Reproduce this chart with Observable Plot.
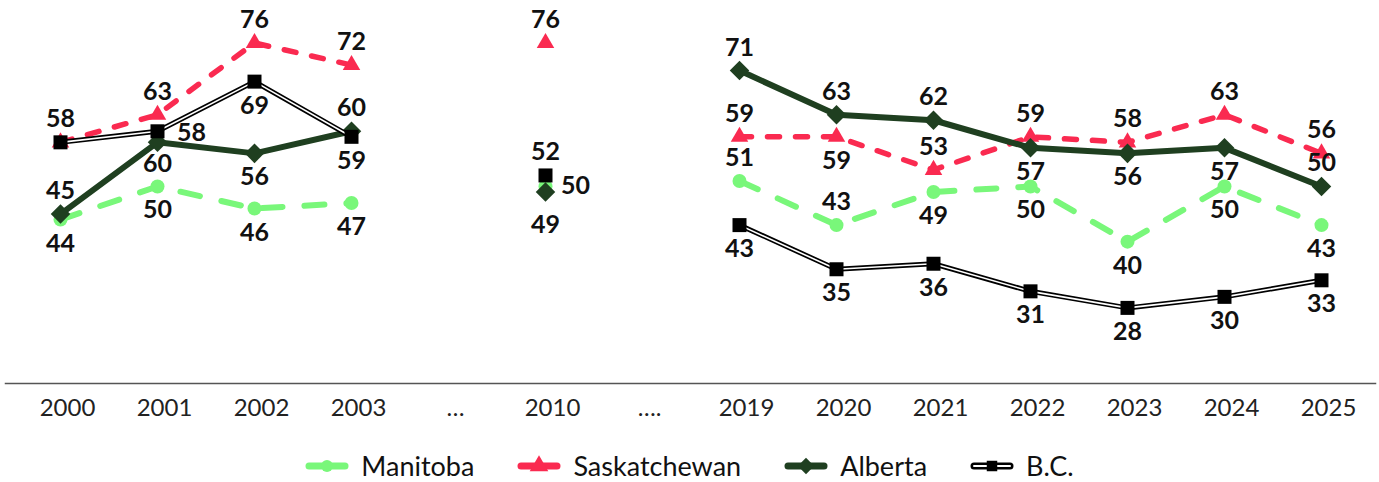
<!DOCTYPE html>
<html>
<head>
<meta charset="utf-8">
<script src="https://cdn.jsdelivr.net/npm/d3@7"></script>
<script src="https://cdn.jsdelivr.net/npm/@observablehq/plot@0.6"></script>
<style>
  html, body { margin: 0; padding: 0; background: #fff; }
  #chart svg { display: block; }
  #legend { display: flex; justify-content: center; align-items: center; gap: 43px;
    margin-top: 0px; font-family: Lato, sans-serif; font-weight: 400; font-size: 27px; color: #111; height: 26px; }
  #legend .item { display: flex; align-items: center; }
  #legend .item span { margin-left: 12px; line-height: 26px; }
</style>
</head>
<body>
<div id="chart"></div>
<div id="legend"></div>
<script>
// ---- data ----
const categories = ["2000","2001","2002","2003","…","2010","….","2019","2020","2021","2022","2023","2024","2025"];
const seriesNames = ["Manitoba","Saskatchewan","Alberta","B.C."];
const manitoba     = [44, 50, 46, 47, null, 50, null, 51, 43, 49, 50, 40, 50, 43];
const saskatchewan = [58, 63, 76, 72, null, 76, null, 59, 59, 53, 59, 58, 63, 56];
const alberta      = [45, 58, 56, 60, null, 49, null, 71, 63, 62, 57, 56, 57, 50];
const bc           = [58, 60, 69, 59, null, 52, null, 43, 35, 36, 31, 28, 30, 33];

// label placement codes (a = above, b = below, r = right, n = none)
const manitobaLabels     = ["b","b","b","b",null,"r",null,"a","a","b","b","b","b","b"];
const saskatchewanLabels = ["a","a","a","a",null,"a",null,"a","b","a","a","a","a","a"];
const albertaLabels      = ["a","ru","b","a",null,"bb",null,"a","a","a","b","b","b","a"];
const bcLabels           = ["n","bb","b","b",null,"a",null,"b","b","b","b","b","b","b"];

// ---- styles ----
const colors = {"Manitoba": "#79F77A", "Saskatchewan": "#FA2A50", "Alberta": "#1F3F20", "B.C.": "#000000"};
const labelOffsets = {a: [0, -23], b: [0, 24], r: [30, 0], ru: [34, -9], bb: [0, 33]};

const valueArrays = [manitoba, saskatchewan, alberta, bc];
const labelArrays = [manitobaLabels, saskatchewanLabels, albertaLabels, bcLabels];

const rows = {};
seriesNames.forEach((name, s) => {
  rows[name] = categories.map((cat, i) => ({cat, series: name, value: valueArrays[s][i], pos: labelArrays[s][i]}));
});
const allRows = seriesNames.flatMap(n => rows[n]);
const valid = arr => arr.filter(d => d.value != null);

const X = {x: "cat", y: "value"};

const marks = [
  Plot.frame({anchor: "bottom", stroke: "#555", strokeWidth: 1.5}),
  Plot.axisX({tickSize: 0, tickPadding: 15, fontSize: 24, fontWeight: 400, dx: 7, fill: "#222", label: null}),
  // Manitoba
  Plot.line(rows["Manitoba"], {...X, stroke: colors["Manitoba"], strokeWidth: 6, strokeDasharray: "20,22", strokeLinecap: "round"}),
  Plot.dot(valid(rows["Manitoba"]), {...X, symbol: "circle", r: 7, fill: colors["Manitoba"], stroke: "none"}),
  // Saskatchewan
  Plot.line(rows["Saskatchewan"], {...X, stroke: colors["Saskatchewan"], strokeWidth: 5.5, strokeDasharray: "12,16", strokeLinecap: "round"}),
  Plot.dot(valid(rows["Saskatchewan"]), {...X, symbol: "triangle", r: 6.5, fill: colors["Saskatchewan"], stroke: "none"}),
  // Alberta
  Plot.line(rows["Alberta"], {...X, stroke: colors["Alberta"], strokeWidth: 6}),
  Plot.dot(valid(rows["Alberta"]), {...X, symbol: "diamond2", r: 8.8, fill: colors["Alberta"], stroke: "none"}),
  // B.C. (double line)
  Plot.line(rows["B.C."], {...X, stroke: "#000", strokeWidth: 5}),
  Plot.line(rows["B.C."], {...X, stroke: "#fff", strokeWidth: 1.6}),
  Plot.dot(valid(rows["B.C."]), {...X, symbol: "square", r: 7.9, fill: "#000", stroke: "none"}),
  // labels
  ...Object.entries(labelOffsets).map(([code, [dx, dy]]) =>
    Plot.text(allRows.filter(d => d.pos === code && d.value != null), {
      ...X, text: d => String(d.value), dx, dy,
      fontSize: 25, fontWeight: "bold", fill: "#111"
    }))
];

const chart = Plot.plot({
  width: 1379,
  height: 453,
  marginTop: 0,
  marginBottom: 70,
  marginLeft: 5,
  marginRight: 4,
  style: {fontFamily: "Lato, sans-serif", background: "#fff", overflow: "visible"},
  x: {type: "point", domain: categories, range: [54, 1326], padding: 0, label: null},
  y: {domain: [14.3, 83.7], axis: null},
  marks
});
document.getElementById("chart").appendChild(chart);

// ---- legend ----
const legend = d3.select("#legend");
seriesNames.forEach(name => {
  const item = legend.append("div").attr("class", "item");
  const svg = item.append("svg").attr("width", 44).attr("height", 24);
  const c = colors[name];
  if (name === "B.C.") {
    svg.append("line").attr("x1", 4).attr("x2", 40).attr("y1", 12).attr("y2", 12)
      .attr("stroke", "#000").attr("stroke-width", 7).attr("stroke-linecap", "round");
    svg.append("line").attr("x1", 4).attr("x2", 40).attr("y1", 12).attr("y2", 12)
      .attr("stroke", "#fff").attr("stroke-width", 2).attr("stroke-linecap", "round");
  } else {
    svg.append("line").attr("x1", 4).attr("x2", 40).attr("y1", 12).attr("y2", 12)
      .attr("stroke", c).attr("stroke-width", 7).attr("stroke-linecap", "round");
  }
  const sym = {"Manitoba": d3.symbolCircle, "Saskatchewan": d3.symbolTriangle, "Alberta": d3.symbolDiamond2, "B.C.": d3.symbolSquare}[name];
  const size = {"Manitoba": 110, "Saskatchewan": 150, "Alberta": 170, "B.C.": 110}[name];
  svg.append("path").attr("transform", "translate(22,12)")
    .attr("d", d3.symbol(sym, size)()).attr("fill", c);
  item.append("span").text(name);
});
</script>
</body>
</html>
